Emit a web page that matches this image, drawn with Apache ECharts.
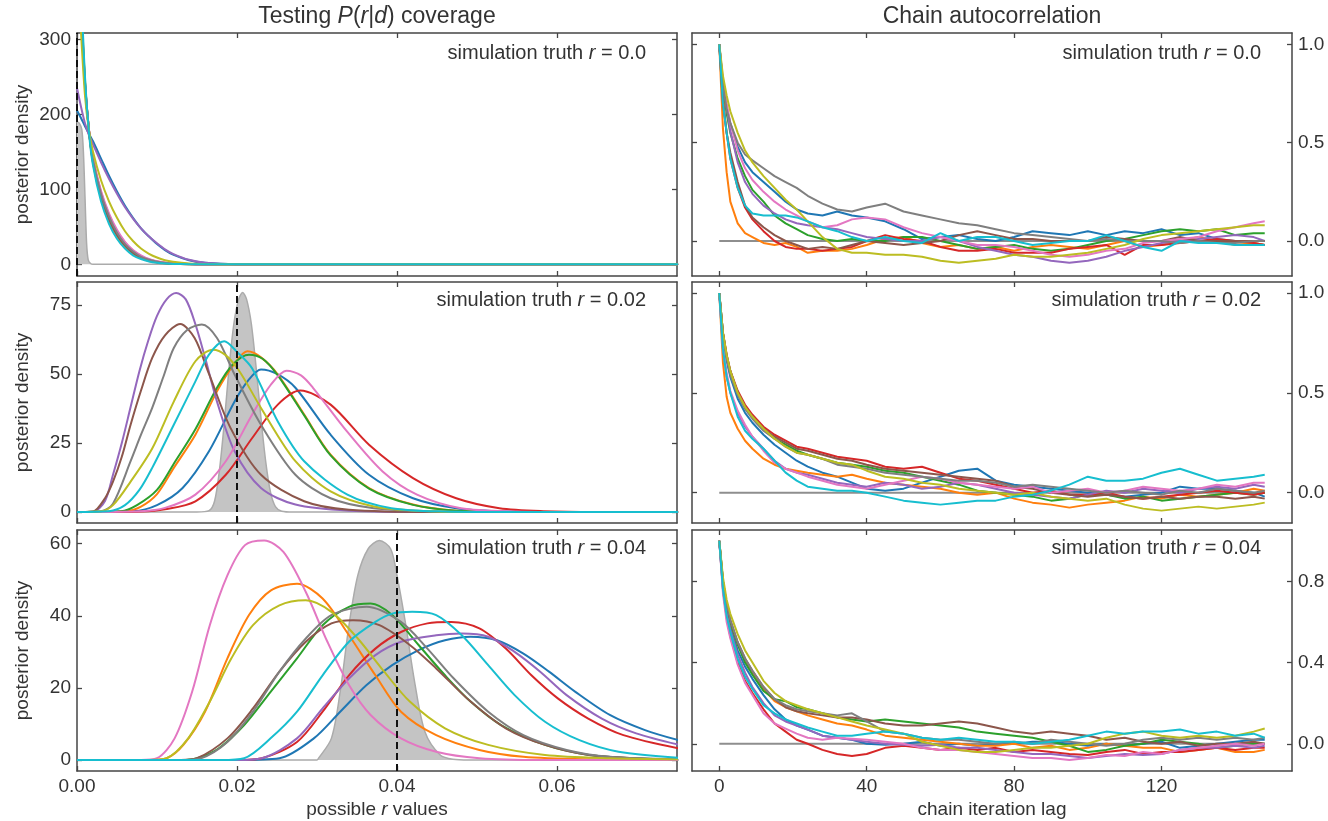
<!DOCTYPE html>
<html><head><meta charset="utf-8">
<script src="https://cdn.jsdelivr.net/npm/echarts/dist/echarts.min.js"></script>
<style>html,body{margin:0;padding:0;background:#fff}#c{width:1328px;height:821px}</style>
</head><body><div id="c"></div>
<script>
// ---------- DATA ----------
const seriesNames = ['blue','orange','green','red','purple','brown','pink','gray','olive','cyan'];

// tick labels
const xTicksLeft = [0, 0.02, 0.04, 0.06];
const xTicksRight = [0, 40, 80, 120];
const yTicksL1 = [0, 100, 200, 300];
const yTicksL2 = [0, 25, 50, 75];
const yTicksL3 = [0, 20, 40, 60];
const yTicksR1 = [0, 0.5, 1.0];
const yTicksR2 = [0, 0.5, 1.0];
const yTicksR3 = [0, 0.4, 0.8];
const truthValues = [0.0, 0.02, 0.04];
const truthLabels = ['0.0', '0.02', '0.04'];

// Panel L1 (r = 0.0): posterior densities on a shared grid of r
const p1X = [0, 0.0005, 0.001, 0.0015, 0.002, 0.003, 0.004, 0.005, 0.006, 0.007, 0.008, 0.009, 0.010, 0.011, 0.012, 0.014, 0.016, 0.02, 0.03, 0.076];
const p1Blue   = [205, 195, 184, 174, 164, 141, 118, 97, 78, 62, 48, 37, 27, 19, 13, 5.5, 2, 0.2, 0, 0];
const p1Orange = [520, 360, 245, 178, 135, 88, 58, 37, 23, 14, 8, 4.5, 2.5, 1.3, 0.7, 0.2, 0, 0, 0, 0];
const p1Green  = [500, 350, 242, 178, 138, 92, 62, 40, 26, 16, 9.5, 5.5, 3, 1.7, 0.9, 0.3, 0.1, 0, 0, 0];
const p1Red    = [470, 335, 238, 178, 140, 96, 66, 44, 29, 18, 11, 6.5, 3.8, 2.1, 1.2, 0.4, 0.1, 0, 0, 0];
const p1Purple = [235, 210, 188, 172, 160, 136, 114, 94, 76, 61, 48, 37, 28, 20, 14, 6, 2, 0.2, 0, 0];
const p1Brown  = [510, 355, 243, 178, 136, 90, 60, 39, 25, 15, 9, 5, 2.8, 1.5, 0.8, 0.2, 0, 0, 0, 0];
const p1Pink   = [480, 340, 240, 180, 142, 98, 68, 46, 30, 19, 12, 7, 4, 2.3, 1.3, 0.4, 0.1, 0, 0, 0];
const p1Gray   = [490, 345, 240, 178, 139, 94, 64, 42, 27, 17, 10, 6, 3.3, 1.8, 1, 0.3, 0.1, 0, 0, 0];
const p1Olive  = [420, 310, 225, 178, 150, 112, 84, 62, 44, 31, 21, 14, 9, 5.5, 3.5, 1.2, 0.4, 0, 0, 0];
const p1Cyan   = [600, 380, 250, 175, 132, 84, 54, 34, 21, 12, 7, 3.8, 2, 1, 0.5, 0.1, 0, 0, 0, 0];
const p1Truth  = [[0,190],[0.0003,188],[0.0006,180],[0.0008,150],[0.001,90],[0.0012,28],[0.0014,6],[0.0017,1],[0.002,0],[0.076,0]];

// Panel L2 (r = 0.02)
const l2Blue   = [[0,0],[0.007,0.3],[0.01,2.5],[0.0132,8.7],[0.0165,22],[0.0197,40],[0.0215,48],[0.023,51.6],[0.025,50],[0.0273,45],[0.0317,28],[0.0365,13.5],[0.042,5],[0.0474,1.4],[0.0528,0.3],[0.06,0],[0.076,0]];
const l2Orange = [[0,0],[0.006,0.3],[0.008,2],[0.01,6.5],[0.0121,16],[0.0148,28],[0.0175,43.7],[0.0195,53],[0.0213,58.2],[0.023,56],[0.0251,49.8],[0.0284,35.3],[0.0317,20.8],[0.0365,8.7],[0.042,2.7],[0.0474,0.5],[0.055,0],[0.076,0]];
const l2Green  = [[0,0],[0.0055,0.3],[0.0075,2.5],[0.01,8],[0.0121,17.5],[0.0148,30],[0.0175,45],[0.0195,53.5],[0.0215,57],[0.0232,55.5],[0.0251,49.5],[0.0284,35],[0.0317,20.5],[0.0365,8.5],[0.042,2.6],[0.0474,0.5],[0.055,0],[0.076,0]];
const l2Red    = [[0,0],[0.008,0.2],[0.011,1],[0.0148,3.9],[0.0186,13.5],[0.0219,26.8],[0.0251,38.9],[0.0279,44],[0.0317,38.9],[0.0365,24.4],[0.042,12.3],[0.0474,5],[0.0528,1.4],[0.0583,0.3],[0.065,0],[0.076,0]];
const l2Purple = [[0,0],[0.002,0.1],[0.0035,4],[0.0045,13.5],[0.0056,25],[0.0067,38],[0.0078,51],[0.0089,62],[0.01,71],[0.0112,77],[0.0124,79.3],[0.0136,77],[0.0148,68],[0.016,56],[0.0175,40],[0.0197,22],[0.023,8.7],[0.0273,2.7],[0.034,0.5],[0.045,0],[0.076,0]];
const l2Brown  = [[0,0],[0.002,0.2],[0.0035,5],[0.0045,11],[0.0056,20],[0.0067,31.6],[0.008,44],[0.0094,55.8],[0.011,64],[0.0129,68.1],[0.0147,63],[0.0165,50],[0.0192,30.4],[0.023,13.5],[0.0284,3.9],[0.034,0.8],[0.045,0],[0.076,0]];
const l2Pink   = [[0,0],[0.008,0.3],[0.011,1.5],[0.0148,6.3],[0.0186,18.4],[0.0219,35.3],[0.0242,46],[0.0262,51.2],[0.028,49.5],[0.0295,45],[0.0338,29],[0.0382,14.7],[0.0425,6.3],[0.048,1.4],[0.055,0.2],[0.062,0],[0.076,0]];
const l2Gray   = [[0,0],[0.003,0.3],[0.0045,3],[0.0067,18.4],[0.008,28],[0.0094,37.7],[0.0108,49],[0.0121,59.4],[0.0138,66],[0.0156,67.9],[0.0175,63],[0.0197,49.8],[0.023,31.6],[0.0273,13.5],[0.0317,5],[0.0371,1.4],[0.045,0.2],[0.055,0],[0.076,0]];
const l2Olive  = [[0,0],[0.003,0.3],[0.0045,2.5],[0.0067,11],[0.0094,23],[0.0121,40],[0.0148,54.6],[0.017,58.8],[0.0185,57],[0.0203,51],[0.023,37.7],[0.0273,18.4],[0.0317,7.5],[0.0371,2],[0.0425,0.5],[0.05,0],[0.076,0]];
const l2Cyan   = [[0,0],[0.004,0.3],[0.006,2.5],[0.0078,8],[0.0094,16],[0.0121,31.6],[0.0148,47.3],[0.0165,57],[0.0184,61.8],[0.02,58],[0.0219,52],[0.0251,32.8],[0.0284,18.4],[0.0338,6.3],[0.0393,1.4],[0.046,0.2],[0.055,0],[0.076,0]];
const l2Truth  = [[0,0],[0.015,0],[0.0165,0.5],[0.0172,4],[0.0178,15],[0.0184,32],[0.019,52],[0.0196,68],[0.0202,77],[0.0207,79.5],[0.0212,77],[0.0218,68],[0.0224,52],[0.023,34],[0.0236,18],[0.0242,7],[0.0248,2],[0.0256,0.3],[0.027,0],[0.076,0]];

// Panel L3 (r = 0.04)
const l3Blue   = [[0,0],[0.02,0],[0.0253,0.5],[0.0296,6],[0.0329,13.4],[0.0362,20.8],[0.0394,26.3],[0.0427,30.5],[0.046,33.2],[0.0492,34.2],[0.0525,33.2],[0.0558,29.5],[0.059,24.5],[0.0623,18.9],[0.0666,12.5],[0.071,8.3],[0.0755,5.3]];
const l3Orange = [[0,0],[0.009,0],[0.0112,0.5],[0.0133,4.2],[0.016,13.4],[0.0188,28.2],[0.0215,40.2],[0.0242,47],[0.0275,48.9],[0.0307,44.8],[0.034,34.6],[0.0373,23.5],[0.0405,13.4],[0.0449,6.9],[0.0503,2.8],[0.0558,0.9],[0.064,0.2],[0.0755,0]];
const l3Green  = [[0,0],[0.013,0],[0.015,0.5],[0.0177,3.2],[0.0209,9.7],[0.0242,18.9],[0.0275,28.2],[0.0307,37.4],[0.034,42.5],[0.0367,43.4],[0.0394,40.2],[0.0427,31.9],[0.046,23.5],[0.0492,16.2],[0.053,9.7],[0.0585,4.2],[0.064,1.4],[0.0694,0.5],[0.0755,0.1]];
const l3Red    = [[0,0],[0.02,0],[0.0231,0.5],[0.0275,5],[0.0307,13.4],[0.034,23.5],[0.0373,30.9],[0.0405,35.5],[0.0438,37.9],[0.0468,38.3],[0.0503,36.5],[0.0536,30.9],[0.0568,23.5],[0.0601,17.1],[0.0639,11.5],[0.0683,6.9],[0.0755,3.1]];
const l3Purple = [[0,0],[0.02,0],[0.0231,0.5],[0.0275,6],[0.0307,14.3],[0.034,22.6],[0.0373,29.1],[0.0405,32.8],[0.0449,34.6],[0.0481,35.1],[0.0514,34.2],[0.0547,30],[0.0579,24.5],[0.0612,18],[0.0656,11.5],[0.0699,7.4],[0.0755,4.1]];
const l3Brown  = [[0,0],[0.013,0],[0.015,0.5],[0.0188,6],[0.022,14.3],[0.0253,24.5],[0.0286,32.8],[0.0318,37.9],[0.0345,38.8],[0.0378,37.4],[0.0416,31.9],[0.0449,25.4],[0.0492,16.2],[0.0536,8.8],[0.0585,4.2],[0.064,1.4],[0.072,0.3],[0.0755,0.2]];
const l3Pink   = [[0,0],[0.008,0],[0.01,0.5],[0.0122,6],[0.0144,19],[0.0166,37.4],[0.0188,51.2],[0.021,59.6],[0.0234,60.9],[0.0258,57.7],[0.0286,46.6],[0.0313,32.8],[0.034,20.8],[0.0367,12.5],[0.0405,6],[0.0449,2.3],[0.0503,0.5],[0.058,0],[0.0755,0]];
const l3Gray   = [[0,0],[0.013,0],[0.0155,0.5],[0.0188,5],[0.022,13.4],[0.0253,24.5],[0.0286,33.7],[0.0318,40.2],[0.0362,42.5],[0.0405,38.3],[0.0438,30.9],[0.0471,22.6],[0.0514,13.4],[0.0558,6.9],[0.0612,2.8],[0.0666,0.9],[0.0755,0.2]];
const l3Olive  = [[0,0],[0.009,0],[0.0112,0.5],[0.0139,6],[0.0166,16.2],[0.0193,28.2],[0.022,37.4],[0.0253,42.9],[0.0286,44.3],[0.0318,41.1],[0.0351,33.7],[0.0384,24.5],[0.0416,16.2],[0.046,8.8],[0.0514,4.2],[0.0585,1.4],[0.0666,0.5],[0.0755,0.2]];
const l3Cyan   = [[0,0],[0.018,0],[0.0209,0.5],[0.0242,6],[0.0275,13.4],[0.0307,23.5],[0.034,32.8],[0.0373,38.3],[0.0394,40.6],[0.0419,41.1],[0.0449,40.2],[0.0481,34.6],[0.0514,26.3],[0.0547,18],[0.0585,10.6],[0.0628,5.5],[0.0677,2.3],[0.0755,0.6]];
const l3Truth  = [[0,0],[0.03,0],[0.0302,0.5],[0.0318,6],[0.0329,19],[0.034,37.4],[0.0351,51.2],[0.0364,58.6],[0.0378,60.9],[0.0392,58.6],[0.04,51.2],[0.0411,37.4],[0.0422,21.7],[0.0435,7.8],[0.0454,1.4],[0.047,0.2],[0.049,0],[0.0755,0]];

// Chain autocorrelation: shared lag grid
const lags = [0,1,2,3,5,7,9,12,15,18,21,24,28,32,36,40,45,50,55,60,65,70,75,80,85,90,95,100,105,110,115,120,125,130,135,140,145,148];

const r1Blue   = [1,0.8,0.68,0.6,0.48,0.4,0.35,0.3,0.25,0.2,0.16,0.14,0.13,0.15,0.13,0.12,0.1,0.06,0.01,0.02,0.03,0.01,0.0,0.02,0.05,0.04,0.03,0.05,0.03,0.05,0.04,0.06,0.03,0.04,0.01,0.0,-0.01,-0.02];
const r1Orange = [1,0.57,0.35,0.2,0.09,0.04,0.02,-0.01,-0.02,-0.01,-0.03,-0.06,-0.05,-0.05,-0.04,-0.02,0.01,0.02,-0.01,-0.03,-0.02,-0.04,-0.03,-0.05,-0.03,-0.02,-0.03,-0.04,-0.02,0.0,-0.03,-0.02,0.0,0.02,0.0,-0.02,-0.01,-0.02];
const r1Green  = [1,0.78,0.65,0.55,0.42,0.33,0.26,0.2,0.13,0.09,0.06,0.03,0.01,0.0,0.01,0.0,0.0,0.02,0.02,0.0,-0.02,-0.04,-0.03,-0.02,-0.04,-0.05,-0.04,-0.02,0.0,0.01,0.03,0.05,0.06,0.05,0.06,0.03,0.04,0.04];
const r1Red    = [1,0.72,0.55,0.42,0.27,0.17,0.11,0.05,0.0,-0.03,-0.04,-0.04,-0.05,-0.04,-0.03,0.0,0.03,0.01,0.0,-0.03,-0.05,-0.05,-0.04,-0.06,-0.06,-0.06,-0.04,-0.03,-0.02,-0.07,-0.02,-0.02,-0.01,0.0,0.01,0.0,-0.01,-0.02];
const r1Purple = [1,0.8,0.68,0.56,0.4,0.3,0.24,0.18,0.14,0.11,0.09,0.08,0.07,0.06,0.04,0.02,0.01,0.0,0.0,0.02,0.0,-0.03,-0.05,-0.07,-0.08,-0.1,-0.11,-0.1,-0.08,-0.05,-0.03,-0.01,0.0,0.01,0.02,0.03,0.02,0.0];
const r1Brown  = [1,0.7,0.55,0.45,0.3,0.18,0.12,0.07,0.03,0.0,-0.02,-0.04,-0.03,-0.04,-0.02,0.0,-0.01,-0.02,-0.01,0.0,0.03,0.05,0.03,0.01,0.01,0.0,0.0,0.0,0.02,0.01,0.0,0.0,0.02,0.0,0.0,0.0,0.0,0.0];
const r1Pink   = [1,0.82,0.7,0.6,0.46,0.37,0.31,0.25,0.2,0.16,0.13,0.1,0.07,0.08,0.11,0.12,0.11,0.07,0.04,0.02,0.0,-0.02,-0.02,-0.03,-0.05,-0.07,-0.08,-0.07,-0.05,-0.04,-0.01,0.0,0.01,0.02,0.05,0.07,0.09,0.1];
const r1Gray   = [1,0.8,0.67,0.6,0.5,0.44,0.41,0.37,0.33,0.3,0.27,0.23,0.19,0.16,0.15,0.17,0.19,0.15,0.13,0.11,0.09,0.08,0.06,0.04,0.03,0.02,0.01,0.0,0.01,0.0,0.0,0.0,-0.01,0.0,-0.01,-0.01,0.0,0.0];
const r1Olive  = [1,0.84,0.74,0.66,0.55,0.46,0.4,0.33,0.27,0.21,0.16,0.1,0.02,-0.04,-0.06,-0.06,-0.07,-0.07,-0.08,-0.1,-0.11,-0.1,-0.09,-0.07,-0.08,-0.08,-0.07,-0.06,-0.04,-0.02,0.01,0.03,0.04,0.05,0.06,0.07,0.08,0.08];
const r1Cyan   = [1,0.7,0.55,0.42,0.27,0.18,0.14,0.13,0.13,0.13,0.12,0.1,0.07,0.05,0.02,0.0,0.02,0.0,-0.01,0.04,0.0,0.02,0.02,0.0,-0.02,-0.01,0.0,0.0,0.03,0.0,-0.03,-0.05,0.0,-0.01,-0.01,-0.02,-0.02,-0.02];

const r2Blue   = [1,0.78,0.66,0.58,0.47,0.4,0.35,0.29,0.24,0.2,0.16,0.13,0.1,0.08,0.05,0.02,0.01,0.02,0.05,0.08,0.11,0.12,0.06,0.04,0.03,0.02,0.01,0.0,-0.01,-0.02,-0.01,0.0,0.03,0.02,0.02,0.01,0.0,-0.02];
const r2Orange = [1,0.65,0.48,0.4,0.32,0.26,0.22,0.17,0.14,0.12,0.11,0.1,0.09,0.08,0.09,0.07,0.05,0.04,0.03,0.02,0.0,-0.01,0.0,-0.03,-0.05,-0.06,-0.075,-0.06,-0.05,-0.04,-0.02,-0.03,-0.01,-0.02,-0.01,0.0,0.02,0.01];
const r2Green  = [1,0.8,0.68,0.6,0.5,0.43,0.38,0.32,0.27,0.24,0.21,0.19,0.17,0.15,0.14,0.13,0.11,0.1,0.08,0.06,0.04,0.01,0.0,-0.01,-0.02,-0.04,-0.03,-0.01,-0.01,-0.03,-0.02,-0.04,-0.03,-0.02,-0.01,0.0,-0.01,0.0];
const r2Red    = [1,0.8,0.69,0.61,0.51,0.44,0.39,0.33,0.29,0.26,0.23,0.22,0.2,0.18,0.17,0.16,0.13,0.12,0.13,0.1,0.07,0.06,0.04,0.02,0.0,0.01,-0.01,-0.01,0.0,-0.02,-0.03,-0.02,-0.01,0.0,0.01,0.0,-0.01,0.0];
const r2Purple = [1,0.72,0.58,0.5,0.4,0.33,0.28,0.22,0.16,0.12,0.1,0.09,0.07,0.05,0.04,0.03,0.05,0.04,0.02,0.03,0.05,0.04,0.02,0.0,-0.01,-0.02,-0.03,-0.01,0.01,0.0,0.02,0.01,0.0,0.02,0.03,0.02,0.04,0.03];
const r2Brown  = [1,0.8,0.69,0.61,0.5,0.43,0.38,0.32,0.28,0.25,0.22,0.21,0.19,0.17,0.16,0.14,0.12,0.11,0.1,0.09,0.08,0.07,0.06,0.03,0.02,0.0,-0.01,-0.02,-0.01,-0.02,-0.03,-0.02,-0.03,-0.02,-0.02,-0.03,-0.02,-0.03];
const r2Pink   = [1,0.73,0.6,0.51,0.41,0.34,0.28,0.21,0.15,0.12,0.1,0.08,0.06,0.04,0.03,0.02,0.04,0.06,0.08,0.07,0.05,0.04,0.03,0.02,0.03,0.0,0.01,0.02,0.0,0.01,0.03,0.02,0.01,0.02,0.04,0.03,0.05,0.05];
const r2Gray   = [1,0.79,0.67,0.59,0.49,0.42,0.37,0.31,0.27,0.23,0.2,0.19,0.17,0.14,0.13,0.12,0.1,0.09,0.08,0.07,0.06,0.06,0.05,0.03,0.04,0.03,0.02,0.01,0.0,0.01,0.0,-0.01,0.01,0.0,0.02,0.01,0.0,0.01];
const r2Olive  = [1,0.8,0.69,0.61,0.5,0.43,0.38,0.32,0.27,0.23,0.2,0.19,0.17,0.15,0.14,0.11,0.08,0.07,0.05,0.04,0.02,0.01,0.0,-0.01,0.0,-0.02,-0.03,-0.04,-0.03,-0.06,-0.08,-0.09,-0.08,-0.07,-0.08,-0.07,-0.06,-0.05];
const r2Cyan   = [1,0.72,0.58,0.5,0.38,0.31,0.27,0.22,0.16,0.1,0.06,0.03,0.02,0.01,0.01,0.0,-0.02,-0.04,-0.05,-0.06,-0.05,-0.04,-0.04,-0.02,-0.01,0.01,0.04,0.08,0.06,0.06,0.07,0.1,0.12,0.09,0.06,0.07,0.08,0.09];

const r3Blue   = [1,0.78,0.66,0.58,0.46,0.38,0.32,0.24,0.17,0.12,0.09,0.07,0.04,0.03,0.02,0.0,-0.005,0.0,0.01,-0.01,0.0,-0.01,0.0,0.0,0.01,0.01,0.0,-0.01,0.0,-0.01,0.0,0.01,-0.02,-0.01,0.0,0.01,0.02,0.02];
const r3Orange = [1,0.8,0.68,0.6,0.49,0.41,0.35,0.27,0.21,0.18,0.16,0.14,0.12,0.1,0.09,0.07,0.04,0.03,0.02,0.01,0.0,-0.01,-0.01,0.0,-0.02,-0.01,-0.03,-0.02,0.0,-0.01,-0.02,-0.02,-0.04,-0.03,-0.02,-0.04,-0.04,-0.03];
const r3Green  = [1,0.8,0.68,0.6,0.49,0.4,0.34,0.26,0.22,0.21,0.18,0.17,0.15,0.13,0.12,0.11,0.12,0.11,0.1,0.09,0.08,0.06,0.05,0.04,0.03,0.01,-0.01,-0.04,-0.03,-0.01,0.0,0.02,0.01,0.0,-0.02,-0.01,0.0,0.0];
const r3Red    = [1,0.76,0.62,0.53,0.4,0.31,0.25,0.17,0.1,0.06,0.02,0.0,-0.03,-0.05,-0.06,-0.05,-0.02,-0.01,-0.02,-0.03,-0.02,-0.03,-0.02,-0.04,-0.03,-0.04,-0.05,-0.055,-0.04,-0.03,-0.05,-0.04,-0.04,-0.03,-0.02,-0.03,-0.02,-0.02];
const r3Purple = [1,0.77,0.64,0.56,0.44,0.35,0.28,0.2,0.14,0.11,0.09,0.07,0.04,0.03,0.02,0.01,0.0,-0.005,-0.01,-0.005,-0.02,-0.02,-0.03,-0.04,-0.05,-0.05,-0.06,-0.07,-0.06,-0.05,-0.055,-0.05,-0.03,-0.02,-0.02,-0.01,-0.02,-0.01];
const r3Brown  = [1,0.8,0.69,0.61,0.5,0.42,0.36,0.28,0.22,0.18,0.16,0.15,0.14,0.13,0.13,0.12,0.1,0.09,0.09,0.1,0.11,0.1,0.08,0.06,0.05,0.06,0.05,0.04,0.02,0.03,0.01,0.0,0.01,-0.01,0.0,0.0,0.01,0.0];
const r3Pink   = [1,0.74,0.6,0.52,0.39,0.3,0.24,0.15,0.1,0.075,0.05,0.03,0.02,0.03,0.025,0.02,0.01,0.0,-0.02,-0.03,-0.03,-0.04,-0.05,-0.06,-0.07,-0.07,-0.08,-0.07,-0.055,-0.06,-0.04,-0.05,-0.03,-0.02,-0.01,0.0,-0.01,0.0];
const r3Gray   = [1,0.8,0.69,0.61,0.5,0.42,0.36,0.28,0.22,0.19,0.17,0.16,0.15,0.14,0.15,0.11,0.06,0.05,0.03,0.02,0.02,0.01,0.0,0.01,0.0,0.02,0.01,0.0,-0.01,0.0,0.02,0.03,0.02,0.03,0.02,0.03,0.02,0.03];
const r3Olive  = [1,0.82,0.71,0.64,0.54,0.46,0.4,0.31,0.25,0.21,0.19,0.17,0.15,0.13,0.11,0.09,0.07,0.05,0.01,-0.01,-0.03,-0.04,-0.04,-0.03,-0.02,-0.02,-0.01,0.0,0.03,0.05,0.06,0.04,0.03,0.04,0.03,0.04,0.06,0.075];
const r3Cyan   = [1,0.76,0.63,0.55,0.42,0.33,0.27,0.19,0.15,0.12,0.1,0.08,0.06,0.04,0.04,0.05,0.06,0.05,0.03,0.02,0.03,0.02,0.01,0.01,0.0,0.01,0.02,0.04,0.06,0.05,0.06,0.06,0.07,0.05,0.06,0.04,0.05,0.03];

// ---------- STYLE / LAYOUT ----------
const COLORS = ['#1f77b4','#ff7f0e','#2ca02c','#d62728','#9467bd','#8c564b','#e377c2','#7f7f7f','#bcbd22','#17becf'];
const FONT = '"Liberation Sans", Arial, Helvetica, sans-serif';
const FRAME = '#454545';
const TXT = '#333333';

const L1 = [p1Blue,p1Orange,p1Green,p1Red,p1Purple,p1Brown,p1Pink,p1Gray,p1Olive,p1Cyan].map(ys => p1X.map((x,i)=>[x, ys[i]]));
const L2 = [l2Blue,l2Orange,l2Green,l2Red,l2Purple,l2Brown,l2Pink,l2Gray,l2Olive,l2Cyan];
const L3 = [l3Blue,l3Orange,l3Green,l3Red,l3Purple,l3Brown,l3Pink,l3Gray,l3Olive,l3Cyan];
const lagPairs = ys => lags.map((l,i)=>[l, ys[i]]).filter(p => p[1] !== undefined);
const R1 = [r1Blue,r1Orange,r1Green,r1Red,r1Purple,r1Brown,r1Pink,r1Gray,r1Olive,r1Cyan].map(lagPairs);
const R2 = [r2Blue,r2Orange,r2Green,r2Red,r2Purple,r2Brown,r2Pink,r2Gray,r2Olive,r2Cyan].map(lagPairs);
const R3 = [r3Blue,r3Orange,r3Green,r3Red,r3Purple,r3Brown,r3Pink,r3Gray,r3Olive,r3Cyan].map(lagPairs);

const rows = [{top:33,height:243},{top:282,height:241},{top:530,height:241}];
const colLeft = {left:77, width:600};
const colRight = {left:692, width:600};

const fmt2 = v => v.toFixed(2);
const fmt1 = v => v.toFixed(1);
const fmt0 = v => String(Math.round(v));

const panels = [
  {col:'L', row:0, x:[0,0.075], xt:xTicksLeft, xf:fmt2, y:[-15.6,308.4], yt:yTicksL1, yf:fmt0, curves:L1, truthArea:p1Truth, truth:truthValues[0]},
  {col:'L', row:1, x:[0,0.075], xt:xTicksLeft, xf:fmt2, y:[-3.97,83.3], yt:yTicksL2, yf:fmt0, curves:L2, truthArea:l2Truth, truth:truthValues[1]},
  {col:'L', row:2, x:[0,0.075], xt:xTicksLeft, xf:fmt2, y:[-3.05,63.8], yt:yTicksL3, yf:fmt0, curves:L3, truthArea:l3Truth, truth:truthValues[2]},
  {col:'R', row:0, x:[-7.4,155.4], xt:xTicksRight, xf:fmt0, y:[-0.178,1.058], yt:yTicksR1, yf:fmt1, curves:R1},
  {col:'R', row:1, x:[-7.4,155.4], xt:xTicksRight, xf:fmt0, y:[-0.152,1.055], yt:yTicksR2, yf:fmt1, curves:R2},
  {col:'R', row:2, x:[-7.4,155.4], xt:xTicksRight, xf:fmt0, y:[-0.134,1.053], yt:yTicksR3, yf:fmt1, curves:R3},
];

const grid = [], xAxis = [], yAxis = [], series = [], title = [];

function baseAxis(min, max, ticks, fmt, showLabel) {
  return {
    type:'value', min:min, max:max,
    axisLine:{show:true, onZero:false, lineStyle:{color:FRAME, width:1.5}},
    axisTick:{show:true, inside:true, length:5, customValues:ticks, lineStyle:{color:FRAME, width:1.3}},
    axisLabel:{show:showLabel, customValues:ticks, formatter:fmt, color:TXT, fontSize:19, fontFamily:FONT, margin:6},
    splitLine:{show:false}
  };
}
const richA = {fontSize:20, fontFamily:FONT, color:TXT, fontWeight:'normal'};
const richI = {fontSize:20, fontFamily:FONT, color:TXT, fontWeight:'normal', fontStyle:'italic'};

panels.forEach((p, g) => {
  const col = p.col === 'L' ? colLeft : colRight;
  grid.push({left:col.left, top:rows[p.row].top, width:col.width, height:rows[p.row].height, containLabel:false});
  const bottomRow = p.row === 2;
  const xb = Object.assign(baseAxis(p.x[0], p.x[1], p.xt, p.xf, bottomRow), {gridIndex:g, position:'bottom'});
  if (bottomRow) {
    xb.name = p.col === 'L' ? '{a|possible }{i|r}{a| values}' : '{a|chain iteration lag}';
    xb.nameLocation = 'middle';
    xb.nameGap = 29;
    xb.nameTextStyle = {rich:{a:{fontSize:19, fontFamily:FONT, color:TXT}, i:{fontSize:19, fontFamily:FONT, color:TXT, fontStyle:'italic'}}};
  }
  const xt = Object.assign(baseAxis(p.x[0], p.x[1], p.xt, p.xf, false), {gridIndex:g, position:'top'});
  xAxis.push(xb, xt);
  const yMain = Object.assign(baseAxis(p.y[0], p.y[1], p.yt, p.yf, true), {gridIndex:g, position: p.col === 'L' ? 'left' : 'right'});
  if (p.col === 'L') {
    yMain.name = 'posterior density';
    yMain.nameLocation = 'middle';
    yMain.nameGap = 45;
    yMain.nameTextStyle = {fontSize:19, fontFamily:FONT, color:TXT};
  }
  const yMirror = Object.assign(baseAxis(p.y[0], p.y[1], p.yt, p.yf, false), {gridIndex:g, position: p.col === 'L' ? 'right' : 'left'});
  yAxis.push(yMain, yMirror);
  const xi = 2*g, yi = 2*g;

  if (p.col === 'L') {
    series.push({
      type:'line', xAxisIndex:xi, yAxisIndex:yi, data:p.truthArea, smooth:0.3, showSymbol:false, symbol:'none',
      lineStyle:{color:'#ababab', width:1.5}, areaStyle:{color:'#c4c4c4', opacity:1, origin:0}, z:1, silent:true
    });
  } else {
    series.push({
      type:'line', xAxisIndex:xi, yAxisIndex:yi, data:[[0,0],[148,0]], showSymbol:false, symbol:'none',
      lineStyle:{color:'#8e8e8e', width:2}, z:1, silent:true
    });
  }
  p.curves.forEach((d, k) => {
    series.push({
      name: seriesNames[k], type:'line', xAxisIndex:xi, yAxisIndex:yi, data:d,
      smooth: p.col === 'L' ? 0.3 : false, showSymbol:false, symbol:'none',
      lineStyle:{color:COLORS[k], width:2}, itemStyle:{color:COLORS[k]}, z:2+k/100, silent:true
    });
  });
  if (p.col === 'L') {
    series.push({
      type:'line', xAxisIndex:xi, yAxisIndex:yi, data:[], z:5, silent:true,
      markLine:{symbol:'none', silent:true, label:{show:false}, animation:false,
        lineStyle:{color:'#111', type:[7,4], width:2},
        data:[{xAxis:p.truth}]}
    });
  }
  // annotation
  const annTop = [43, 290, 538][p.row];
  const rightOff = p.col === 'L' ? (1328 - 677 + 31) : (1328 - 1292 + 31);
  title.push({
    text:'{a|simulation truth }{i|r}{a| = ' + truthLabels[p.row] + '}',
    right:rightOff, top:annTop, padding:0,
    textStyle:{fontWeight:'normal', rich:{a:richA, i:richI}}
  });
});

title.push({
  text:'{a|Testing }{i|P}{a|(}{i|r}{a||}{i|d}{a|) coverage}', left:377, textAlign:'center', top:5, padding:0,
  textStyle:{fontWeight:'normal', rich:{a:Object.assign({}, richA, {fontSize:23}), i:Object.assign({}, richI, {fontSize:23})}}
});
title.push({
  text:'Chain autocorrelation', left:992, textAlign:'center', top:5, padding:0,
  textStyle:{fontSize:23, fontFamily:FONT, color:TXT, fontWeight:'normal'}
});

const chart = echarts.init(document.getElementById('c'), null, {renderer:'canvas'});
chart.setOption({animation:false, backgroundColor:'#ffffff', title, grid, xAxis, yAxis, series});
</script>
</body></html>
